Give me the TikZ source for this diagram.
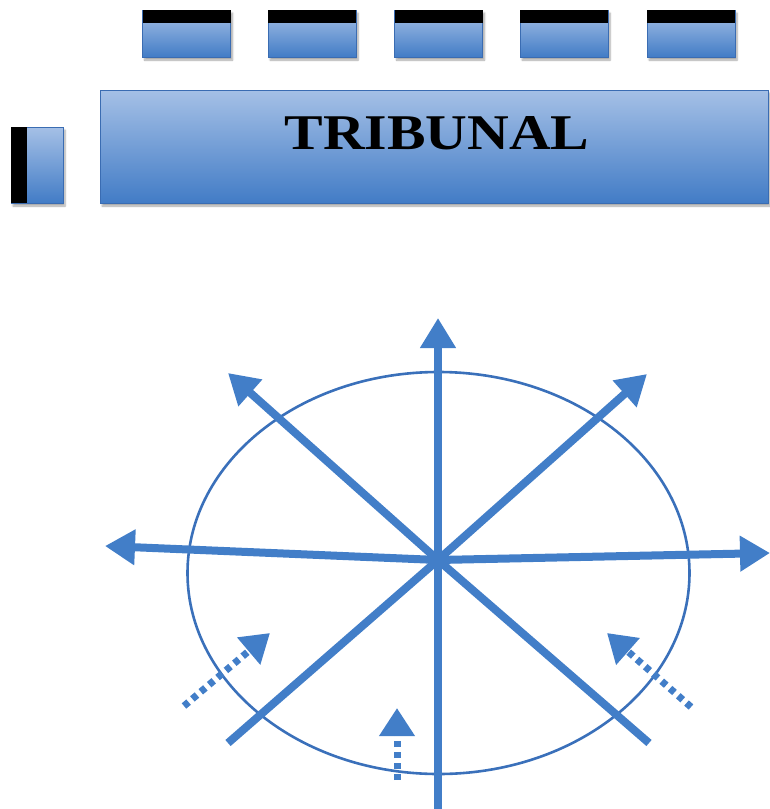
\documentclass[tikz,border=0pt]{standalone}
\usepackage{graphicx}
\usepackage{fontspec}
\setmainfont{Liberation Serif}
\usetikzlibrary{arrows.meta,shadows.blur,shapes.geometric}
\definecolor{ablue}{RGB}{66,126,200}
\definecolor{ringblue}{RGB}{58,112,186}
\definecolor{boxtop}{RGB}{165,192,230}
\definecolor{boxbot}{RGB}{66,124,198}
\definecolor{boxedge}{RGB}{58,108,178}
\tikzset{
  bluebox/.style={rectangle, draw=boxedge, line width=1pt, top color=boxtop, bottom color=boxbot,
    inner sep=0pt, blur shadow={shadow xshift=2pt, shadow yshift=-3pt, shadow blur steps=6, shadow opacity=35}},
  blackband/.style={rectangle, fill=black, inner sep=0pt},
  spoke/.style={draw=ablue, line width=8pt},
  spokearrow/.style={spoke, -{Triangle[width=34pt,length=30pt]}},
  dotarrow/.style={draw=ablue, line width=7pt, dash pattern=on 6pt off 5pt, -{Triangle[width=34pt,length=28pt]}},
  ring/.style={draw=ringblue, line width=2.6pt}
}
\begin{document}
\begin{tikzpicture}[x=1pt,y=-1pt]
\useasboundingbox (0,0) rectangle (770,809);
% top small boxes
\foreach \i/\cx in {1/186.5, 2/312, 3/438.5, 4/564, 5/691} {
  \node[bluebox, minimum width=88pt, minimum height=47pt] (tb\i) at (\cx,33.5) {};
  \node[blackband, minimum width=88pt, minimum height=13pt] (tk\i) at (\cx,16.5) {};
}
% tribunal box
\node[bluebox, minimum width=668pt, minimum height=113pt] (trib) at (434,146.5) {};
\node[text=black] (tribtext) at (437,133.5) {\resizebox{305pt}{33pt}{\bfseries TRIBUNAL}};
% left small box
\node[bluebox, minimum width=52pt, minimum height=76pt] (lb) at (37,165) {};
\node[blackband, minimum width=16pt, minimum height=76pt] (lk) at (19,165) {};
% ellipse
\node[ring, ellipse, minimum width=502pt, minimum height=402pt, inner sep=0pt] (ell) at (438.5,573) {};
% star
\coordinate (c) at (438,560);
\coordinate (up) at (438,318);
\coordinate (dn) at (438,809);
\coordinate (lf) at (105,546);
\coordinate (rt) at (770,553);
\coordinate (ul) at (228,373);
\coordinate (ur) at (647,374);
\coordinate (ll) at (228,743);
\coordinate (lr) at (649,743);
\draw[spokearrow] (c) -- (up);
\draw[spokearrow] (c) -- (lf);
\draw[spokearrow] (c) -- (rt);
\draw[spokearrow] (c) -- (ul);
\draw[spokearrow] (c) -- (ur);
\draw[spoke] (c) -- (dn);
\draw[spoke] (c) -- (ll);
\draw[spoke] (c) -- (lr);
% dotted arrows
\coordinate (dla) at (184,706);
\coordinate (dlb) at (270,633);
\coordinate (dra) at (691,707);
\coordinate (drb) at (607,633);
\coordinate (dba) at (397,780);
\coordinate (dbb) at (397,708);
\draw[dotarrow] (dla) -- (dlb);
\draw[dotarrow] (dra) -- (drb);
\draw[dotarrow] (dba) -- (dbb);
\end{tikzpicture}
\end{document}
